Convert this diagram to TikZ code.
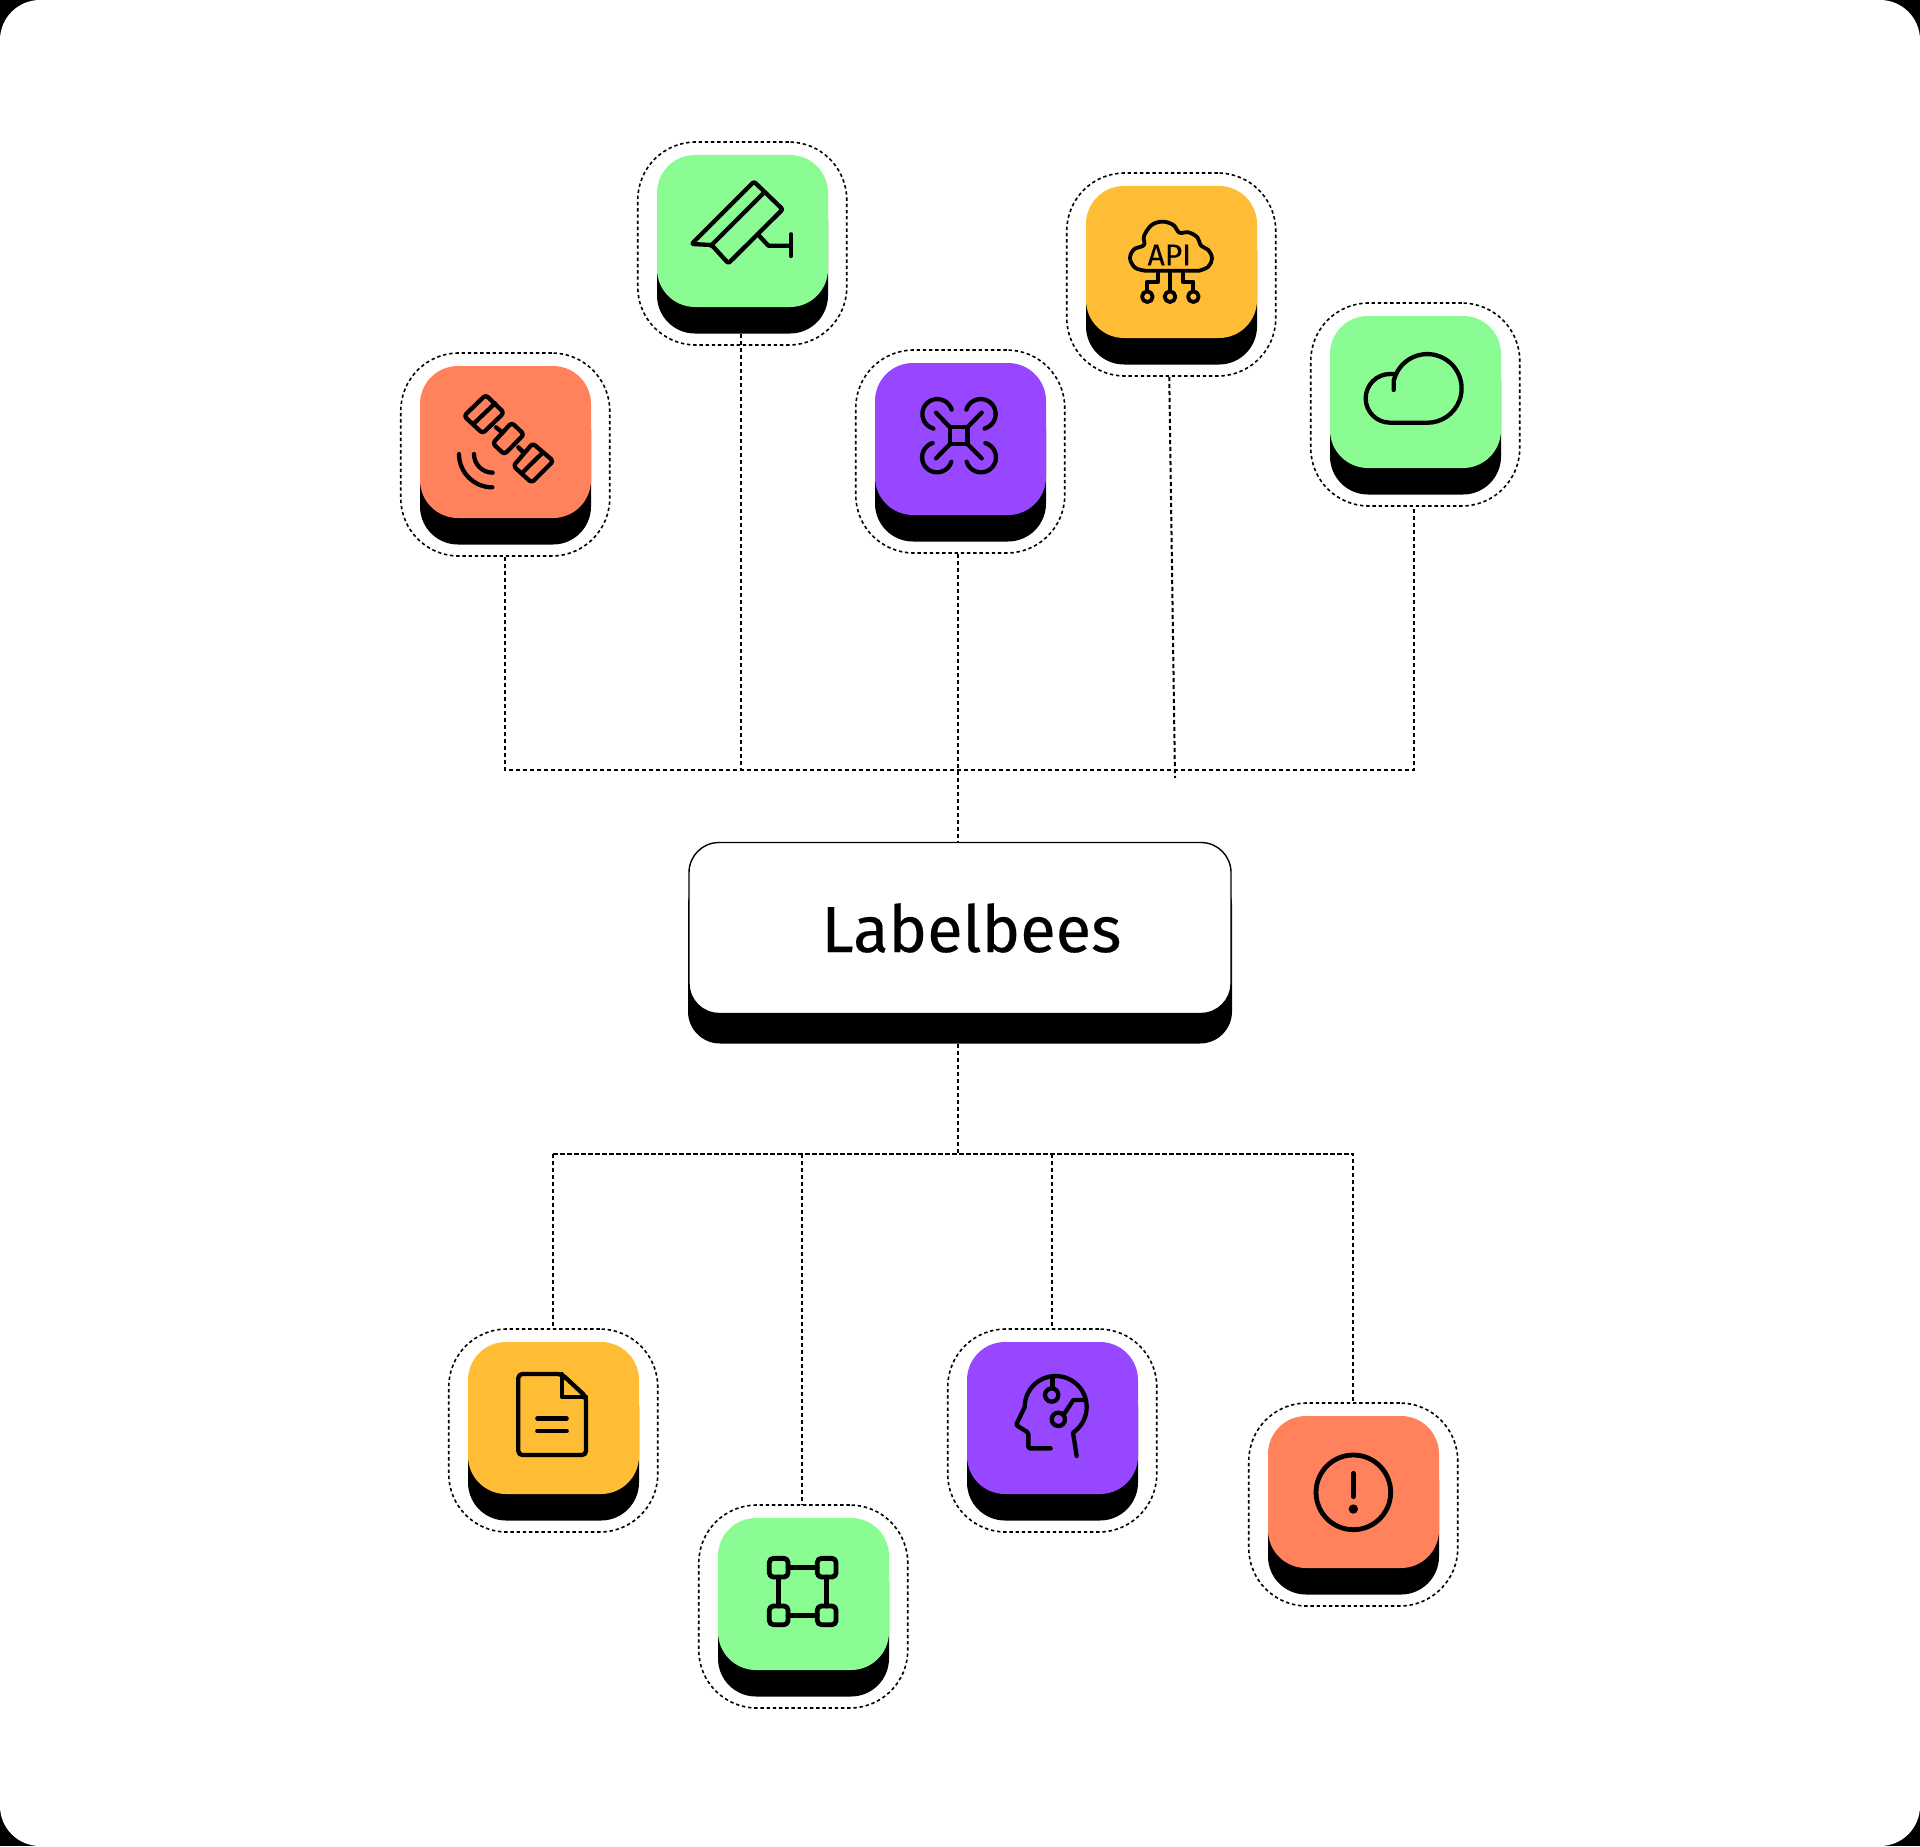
\documentclass[tikz,border=0pt]{standalone}
\usepackage{fontspec}
\setmainfont{Fira Sans}
\newfontfamily\labfont{Fira Sans}[FakeBold=0.25]
\definecolor{cgreen}{HTML}{8BFB93}
\definecolor{corange}{HTML}{FF825C}
\definecolor{cpurple}{HTML}{9747FF}
\definecolor{cyellow}{HTML}{FFBC35}
\tikzset{
  conn/.style={black,line width=1pt,dash pattern=on 2.2pt off 1.3pt},
  outl/.style={draw=black,line width=0.8pt,dash pattern=on 1.7pt off 1.4pt,rounded corners=29pt,minimum width=104.5pt,minimum height=101.5pt,inner sep=0pt},
  facebox/.style={rounded corners=19pt,minimum width=85.5pt,minimum height=76pt,inner sep=0pt},
  ico/.style={black,line width=2.15pt,line cap=round,line join=round},
  zoomed/.style n args={2}{shift={({#1*0.5pt},{-#2*0.5pt})},x=0.16667pt,y=-0.16667pt},
}
\newcommand{\appbox}[4]{%
  \node[facebox,fill=black] (#1-s) at ({#2+85.5},{#3+102.5}) {};
  \node[facebox,fill=#4] (#1-f) at ({#2+85.5},{#3+76}) {};
  \node[outl] (#1) at ({#2+85.25},{#3+88.5}) {};
}
\begin{document}
\begin{tikzpicture}[x=0.5pt,y=-0.5pt]
\useasboundingbox (0,0) rectangle (1920,1846);
\fill[black] (0,0) rectangle (1920,1846);
\fill[white,rounded corners=20pt] (0,0) rectangle (1920,1846);

% boxes
\appbox{sat}{420}{366}{corange}
\appbox{cam}{657}{155}{cgreen}
\appbox{drone}{875}{363}{cpurple}
\appbox{api}{1086}{186}{cyellow}
\appbox{cloud}{1330}{316}{cgreen}
\appbox{doc}{468}{1342}{cyellow}
\appbox{sq}{718}{1518}{cgreen}
\appbox{head}{967}{1342}{cpurple}
\appbox{alert}{1268}{1416}{corange}

% central box
\node[rounded corners=16pt,fill=black,minimum width=272pt,minimum height=85.5pt,inner sep=0pt] (main-s) at (960,958) {};
\node[rounded corners=15pt,fill=white,draw=black,line width=0.7pt,minimum width=271pt,minimum height=85.5pt,inner sep=0pt] (main) at (960,928) {};
\node[anchor=base west,inner sep=0pt,font=\labfont\fontsize{32.5}{38}\selectfont,text=black] (mainlabel) at (821,952) {Labelbees};

% buses
\coordinate (busT) at (0,770);
\coordinate (busB) at (0,1153.5);
\coordinate (apiEnd) at (1175,778);
\coordinate (cloudDrop) at ([xshift=-0.6pt]cloud.south);
\coordinate (droneDrop) at ([xshift=-0.9pt]drone.south);
\coordinate (sqDrop) at ([xshift=-0.6pt]sq.north);

\draw[conn] (sat.south) -- (sat.south |- busT) -- (cloudDrop |- busT) -- (cloudDrop);
\draw[conn] ([xshift=-0.75pt]cam-s.south) -- ([xshift=-0.75pt]cam-s.south |- busT);
\draw[conn] (droneDrop) -- (droneDrop |- main.north);
\draw[conn] ([xshift=-1pt]api.south) -- (apiEnd);
\draw[conn] (droneDrop |- main-s.south) -- (droneDrop |- busB);
\draw[conn] (doc.north |- busB) -- (doc.north);
\draw[conn] (doc.north |- busB) -- (alert.north |- busB) -- (alert.north);
\draw[conn] (sqDrop |- busB) -- (sqDrop);
\draw[conn] (head.north |- busB) -- (head.north);

% satellite
\begin{scope}[zoomed={390}{340},ico]
  \draw[rounded corners=1.5pt] (287,165) -- (342,218) -- (278,280) -- (222,228) -- cycle;
  \draw (250,252) -- (315,190);
  \draw (318,262) -- (338,278);
  \draw[rounded corners=1.5pt] (365,248) -- (402,283) -- (343,343) -- (308,310) -- cycle;
  \draw (385,322) -- (398,335);
  \draw[rounded corners=1.5pt] (428,310) -- (490,363) -- (425,428) -- (370,378) -- cycle;
  \draw (395,400) -- (458,338);
  \draw (207,342) arc[start angle=180,end angle=90,radius=100];
  \draw (252,342) arc[start angle=180,end angle=90,radius=56];
\end{scope}

% camera
\begin{scope}[zoomed={630}{130},ico]
  \draw[rounded corners=1pt] (185,342) -- (372,155) -- (458,238) -- (295,400) -- (245,345) -- cycle;
  \draw (245,345) -- (403,187);
  \draw (388,318) -- (415,347) -- (483,347);
  \draw (483,313) -- (483,378);
\end{scope}

% drone
\begin{scope}[zoomed={850}{340},ico]
  \draw[line cap=butt] (300,262) rectangle (352,312);
  \draw (300,262) -- (258,218);
  \draw (352,262) -- (395,218);
  \draw (300,312) -- (258,355);
  \draw (352,312) -- (395,355);
  \draw (305,209) arc[start angle=-17,end angle=-255,radius=45];
  \draw (349,209) arc[start angle=-163,end angle=75,radius=45];
  \draw (248,309) arc[start angle=-107,end angle=-343,radius=45];
  \draw (406,309) arc[start angle=-73,end angle=163,radius=45];
\end{scope}

% API cloud
\begin{scope}[zoomed={1120}{200},ico,line width=1.9pt]
  \draw plot[smooth,tension=0.6] coordinates {(75,212) (45,203) (30,175) (42,148) (72,135) (72,108) (95,75) (128,65) (160,75) (178,98) (205,97) (232,112) (243,137) (265,150) (276,175) (265,200) (238,212)} -- cycle;
  \draw (150,218) -- (150,272);
  \draw (115,218) -- (115,245) -- (82,245) -- (82,272);
  \draw (188,218) -- (188,245) -- (220,245) -- (220,272);
  \draw (150,290) circle[radius=16];
  \draw (82,290) circle[radius=16];
  \draw (220,290) circle[radius=16];
  \node[inner sep=0pt,font=\labfont\fontsize{15}{17}\selectfont,text=black] (apilabel) at (148,165) {API};
\end{scope}

% cloud
\begin{scope}[zoomed={1300}{300},ico]
  \draw (281,270) -- (281,242) -- (285,230) arc[start angle=200,end angle=450,radius=103] -- (270,368) arc[start angle=90,end angle=270,radius=73] -- (281,222);
\end{scope}

% document
\begin{scope}[zoomed={490}{1350},ico]
  \draw[rounded corners=2pt] (215,72) -- (85,72) -- (85,315) -- (288,315) -- (288,140) -- cycle;
  \draw (215,72) -- (215,140) -- (288,140);
  \draw (142,205) -- (230,205);
  \draw (142,243) -- (230,243);
\end{scope}

% selection square
\begin{scope}[zoomed={740}{1530},ico,line width=2.4pt]
  \draw[rounded corners=2pt] (88,85) rectangle (144,141);
  \draw[rounded corners=2pt] (232,85) rectangle (288,141);
  \draw[rounded corners=2pt] (88,228) rectangle (144,284);
  \draw[rounded corners=2pt] (232,228) rectangle (288,284);
  \draw (144,113) -- (232,113);
  \draw (144,256) -- (232,256);
  \draw (116,141) -- (116,228);
  \draw (260,141) -- (260,228);
\end{scope}

% head
\begin{scope}[zoomed={990}{1350},ico]
  \draw[rounded corners=0.7pt] (182,295) -- (115,295) -- (115,248) -- (78,225) -- (104,171);
  \draw (104,171) arc[start angle=180,end angle=416,radius=93] -- (260,318);
  \draw (187,85) -- (187,115);
  \draw (185,135) circle[radius=20];
  \draw (205,208) circle[radius=20];
  \draw (220,195) -- (250,150) -- (285,150);
\end{scope}

% alert
\begin{scope}[zoomed={1240}{1390},ico,line width=2.4pt]
  \draw (340,307) circle[radius=112];
  \draw (340,250) -- (340,320);
  \fill (340,357) circle[radius=14];
\end{scope}
\end{tikzpicture}
\end{document}
